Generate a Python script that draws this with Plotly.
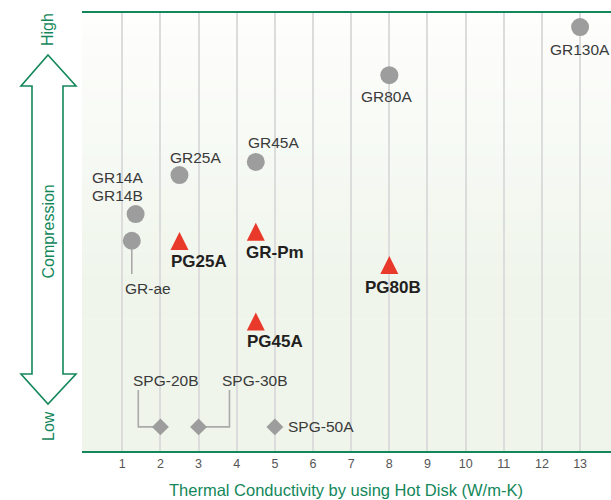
"""
Compression vs thermal conductivity map of gap filler products
"""

import plotly.graph_objects as go

# ---- data ----
gr_names = ['GR130A', 'GR80A', 'GR45A', 'GR25A', 'GR14A', 'GR-ae']
gr_tc = [13, 8, 4.5, 2.5, 1.35, 1.25]
gr_comp = [96.8, 85.8, 66.0, 63.0, 54.1, 48.0]

pg_names = ['PG25A', 'GR-Pm', 'PG80B', 'PG45A']
pg_tc = [2.5, 4.5, 8, 4.5]
pg_comp = [50.0, 52.1, 44.5, 31.6]

spg_names = ['SPG-20B', 'SPG-30B', 'SPG-50A']
spg_tc = [2, 3, 5]
spg_comp = [5.5, 5.5, 5.5]

tick_vals = list(range(1, 14))

# ---- styling / positions ----
GREEN = '#13875a'
GRAY_MARK = '#9d9d9d'
RED = '#e8392a'
FONT = 'Liberation Sans, Arial, sans-serif'

W, H = 611, 500
ML, MR, MT, MB = 82, 0, 13, 49
PW, PH = W - ML - MR, H - MT - MB

# label offsets in pixels (dx right, dy up)
gr_label_off = {'GR130A': (0, -22), 'GR80A': (-3, -21), 'GR45A': (18, 19),
                'GR25A': (16, 18), 'GR-ae': (16, -48)}
pg_label_off = {'PG25A': (20, -29.5), 'GR-Pm': (19, -29.5),
                'PG80B': (4, -31), 'PG45A': (19, -28.5)}
spg_label_off = {'SPG-20B': (5, 46), 'SPG-30B': (56, 46), 'SPG-50A': (46, 0)}


def px(x):
    return (x - ML) / PW


def py(y):
    return (MT + PH - y) / PH


fig = go.Figure()

# leader lines (x in data units, y in data units)
leaders = [
    ([gr_tc[5], gr_tc[5]], [gr_comp[5], 40.4]),
    ([1.42, 1.42, spg_tc[0]], [13.9, spg_comp[0], spg_comp[0]]),
    ([spg_tc[1], 3.81, 3.81], [spg_comp[1], spg_comp[1], 13.9]),
]
for lx, ly in leaders:
    fig.add_trace(go.Scatter(x=lx, y=ly, mode='lines',
                             line=dict(color='#aaaaaa', width=1.6),
                             hoverinfo='skip', showlegend=False))

fig.add_trace(go.Scatter(
    x=gr_tc, y=gr_comp, mode='markers', name='GR',
    marker=dict(symbol='circle', size=18, color=GRAY_MARK),
    showlegend=False))

fig.add_trace(go.Scatter(
    x=pg_tc, y=pg_comp, mode='markers', name='PG',
    marker=dict(symbol='arrow-up', size=18, color=RED, line=dict(width=0)),
    showlegend=False))

fig.add_trace(go.Scatter(
    x=spg_tc, y=spg_comp, mode='markers', name='SPG',
    marker=dict(symbol='diamond', size=13, color=GRAY_MARK),
    showlegend=False))

annotations = []
for n, x, y in zip(gr_names, gr_tc, gr_comp):
    if n == 'GR14A':
        for t, dy in (('GR14A', 37), ('GR14B', 19)):
            annotations.append(dict(x=x, y=y, text=t, xshift=-18, yshift=dy, showarrow=False,
                                    xanchor='center', yanchor='middle',
                                    font=dict(size=15.5, color='#3a3a3a', family=FONT)))
        continue
    dx, dy = gr_label_off[n]
    annotations.append(dict(x=x, y=y, text=n, xshift=dx, yshift=dy, showarrow=False,
                            xanchor='center', yanchor='middle',
                            font=dict(size=15.5, color='#3a3a3a', family=FONT)))
for n, x, y in zip(pg_names, pg_tc, pg_comp):
    dx, dy = pg_label_off[n]
    annotations.append(dict(x=x, y=y, text='<b>' + n + '</b>', xshift=dx, yshift=dy,
                            showarrow=False, xanchor='center', yanchor='middle',
                            font=dict(size=17, color='#231f1f', family=FONT)))
for n, x, y in zip(spg_names, spg_tc, spg_comp):
    dx, dy = spg_label_off[n]
    annotations.append(dict(x=x, y=y, text=n, xshift=dx, yshift=dy, showarrow=False,
                            xanchor='center', yanchor='middle',
                            font=dict(size=15.5, color='#3a3a3a', family=FONT)))

# axis title and the side compression labels
annotations.append(dict(xref='paper', yref='paper', x=px(346), y=py(490),
                        xanchor='center', yanchor='middle',
                        text='Thermal Conductivity by using Hot Disk (W/m-K)',
                        showarrow=False, font=dict(size=16.5, color=GREEN, family=FONT)))
for t, yy in (('High', 30), ('Compression', 231.5), ('Low', 426)):
    annotations.append(dict(xref='paper', yref='paper', x=px(48), y=py(yy), text=t,
                            xanchor='center', yanchor='middle',
                            textangle=-90, showarrow=False,
                            font=dict(size=16, color=GREEN, family=FONT)))

shapes = []
# background gradient, white at top to pale green at bottom
n_steps = 40
top_c = (254, 254, 253)
bot_c = (239, 245, 235)
for i in range(n_steps):
    f = (i + 0.5) / n_steps
    c = tuple(round(top_c[k] + (bot_c[k] - top_c[k]) * min(1, f * 1.6)) for k in range(3))
    shapes.append(dict(type='rect', xref='paper', yref='paper', x0=0, x1=1,
                       y0=1 - (i + 1) / n_steps, y1=1 - i / n_steps + 0.001,
                       fillcolor='rgb(%d,%d,%d)' % c, line=dict(width=0), layer='below'))

# double headed hollow arrow on the left
pts = [(48, 55), (76, 86), (63, 86), (63, 374), (76, 374), (48, 404),
       (21, 374), (32, 374), (32, 86), (21, 86)]
path = 'M ' + ' L '.join('%.5f,%.5f' % (px(a), py(b)) for a, b in pts) + ' Z'
shapes.append(dict(type='path', xref='paper', yref='paper', path=path,
                   fillcolor='white', line=dict(color=GREEN, width=1.6)))

fig.update_layout(
    width=W, height=H,
    margin=dict(l=ML, r=MR, t=MT, b=MB),
    paper_bgcolor='white',
    plot_bgcolor='white',
    xaxis=dict(range=[-0.055, 13.81], tickvals=tick_vals, showgrid=True,
               gridcolor='#dcdcdc', gridwidth=1.5, zeroline=False,
               showline=True, linecolor=GREEN, linewidth=2, mirror=True,
               ticks='', tickfont=dict(size=12.5, color='#555555', family=FONT)),
    yaxis=dict(range=[0, 100], showgrid=False, zeroline=False,
               showticklabels=False, showline=False),
    annotations=annotations,
    shapes=shapes,
)

fig.write_html("out.html", config={'displayModeBar': False},
               post_script="document.body.style.margin='0';")
